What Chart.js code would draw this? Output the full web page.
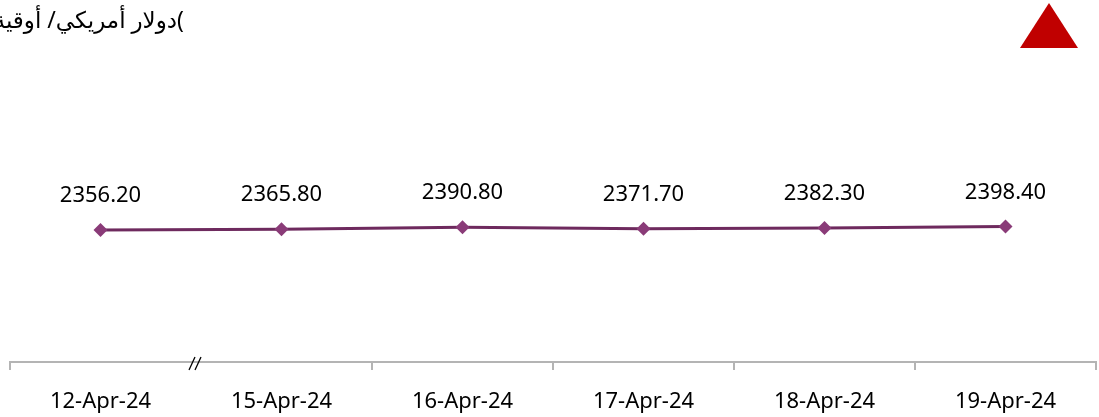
<!DOCTYPE html>
<html>
<head>
<meta charset="utf-8">
<script src="https://cdn.jsdelivr.net/npm/chart.js@4"></script>
<style>
  body { margin: 0; background: #fff; }
  #wrap { position: relative; width: 1099px; height: 417px; overflow: hidden; }
  #unit {
    position: absolute; top: 3px; right: 915px;
    direction: ltr; white-space: nowrap;
    font-family: "Noto Sans", "DejaVu Sans", sans-serif; font-size: 23px; color: #000;
  }
  #tri {
    position: absolute; left: 1020px; top: 3px; width: 0; height: 0;
    border-left: 29px solid transparent; border-right: 29px solid transparent;
    border-bottom: 45px solid #c00000;
  }
</style>
</head>
<body>
<div id="wrap">
  <canvas id="goldChart" width="1099" height="417"></canvas>
  <div id="unit">)<bdi dir="rtl">دولار أمريكي/ أوقية</bdi>(</div>
  <div id="tri"></div>
</div>
<script>
const dates = ['12-Apr-24', '15-Apr-24', '16-Apr-24', '17-Apr-24', '18-Apr-24', '19-Apr-24'];
const prices = [2356.20, 2365.80, 2390.80, 2371.70, 2382.30, 2398.40];
const yMin = 700;
const yMax = 4200;

// values above each point
const labelPlugin = {
  id: 'pointLabels',
  afterDatasetsDraw(chart) {
    const ctx = chart.ctx;
    const meta = chart.getDatasetMeta(0);
    ctx.save();
    ctx.font = '22px "Noto Sans"';
    ctx.fillStyle = '#000';
    ctx.textAlign = 'center';
    ctx.textBaseline = 'middle';
    meta.data.forEach((pt, i) => {
      ctx.fillText(prices[i].toFixed(2), pt.x, pt.y - 34);
    });
    ctx.restore();
  }
};

// axis break mark "//" between first and second date
const breakPlugin = {
  id: 'axisBreak',
  afterDraw(chart) {
    const x = chart.scales.x;
    const cx = (x.getPixelForTick(0) + x.getPixelForTick(1)) / 2 + 4;
    const y = chart.chartArea.bottom;
    const ctx = chart.ctx;
    ctx.save();
    ctx.strokeStyle = '#000';
    ctx.lineWidth = 1.3;
    [-3, 3].forEach(dx => {
      ctx.beginPath();
      ctx.moveTo(cx + dx - 3, y + 8);
      ctx.lineTo(cx + dx + 3, y - 5);
      ctx.stroke();
    });
    ctx.restore();
  }
};

new Chart(document.getElementById('goldChart').getContext('2d'), {
  type: 'line',
  data: {
    labels: dates,
    datasets: [{
      data: prices,
      borderColor: '#6e2a5e',
      borderWidth: 3,
      pointStyle: 'rectRot',
      pointRadius: 7,
      pointBackgroundColor: '#8a3b78',
      pointBorderColor: '#8a3b78',
      pointBorderWidth: 0,
      tension: 0
    }]
  },
  options: {
    responsive: false,
    animation: false,
    layout: { autoPadding: false, padding: { left: 10, right: 3, top: 83, bottom: 0 } },
    plugins: { legend: { display: false }, tooltip: { enabled: false } },
    scales: {
      x: {
        offset: true,
        afterFit: scale => { scale.height = 55; },
        grid: {
          offset: true,
          drawOnChartArea: false,
          drawTicks: true,
          tickLength: 8,
          lineWidth: 2,
          color: ctx => ctx.index === 1 ? 'rgba(0,0,0,0)' : '#b4b4b4'
        },
        border: { color: '#b4b4b4', width: 2 },
        ticks: {
          color: '#000',
          padding: 19,
          maxRotation: 0,
          font: { family: 'Noto Sans', size: 22 }
        }
      },
      y: { display: false, min: yMin, max: yMax }
    }
  },
  plugins: [labelPlugin, breakPlugin]
});
</script>
</body>
</html>
